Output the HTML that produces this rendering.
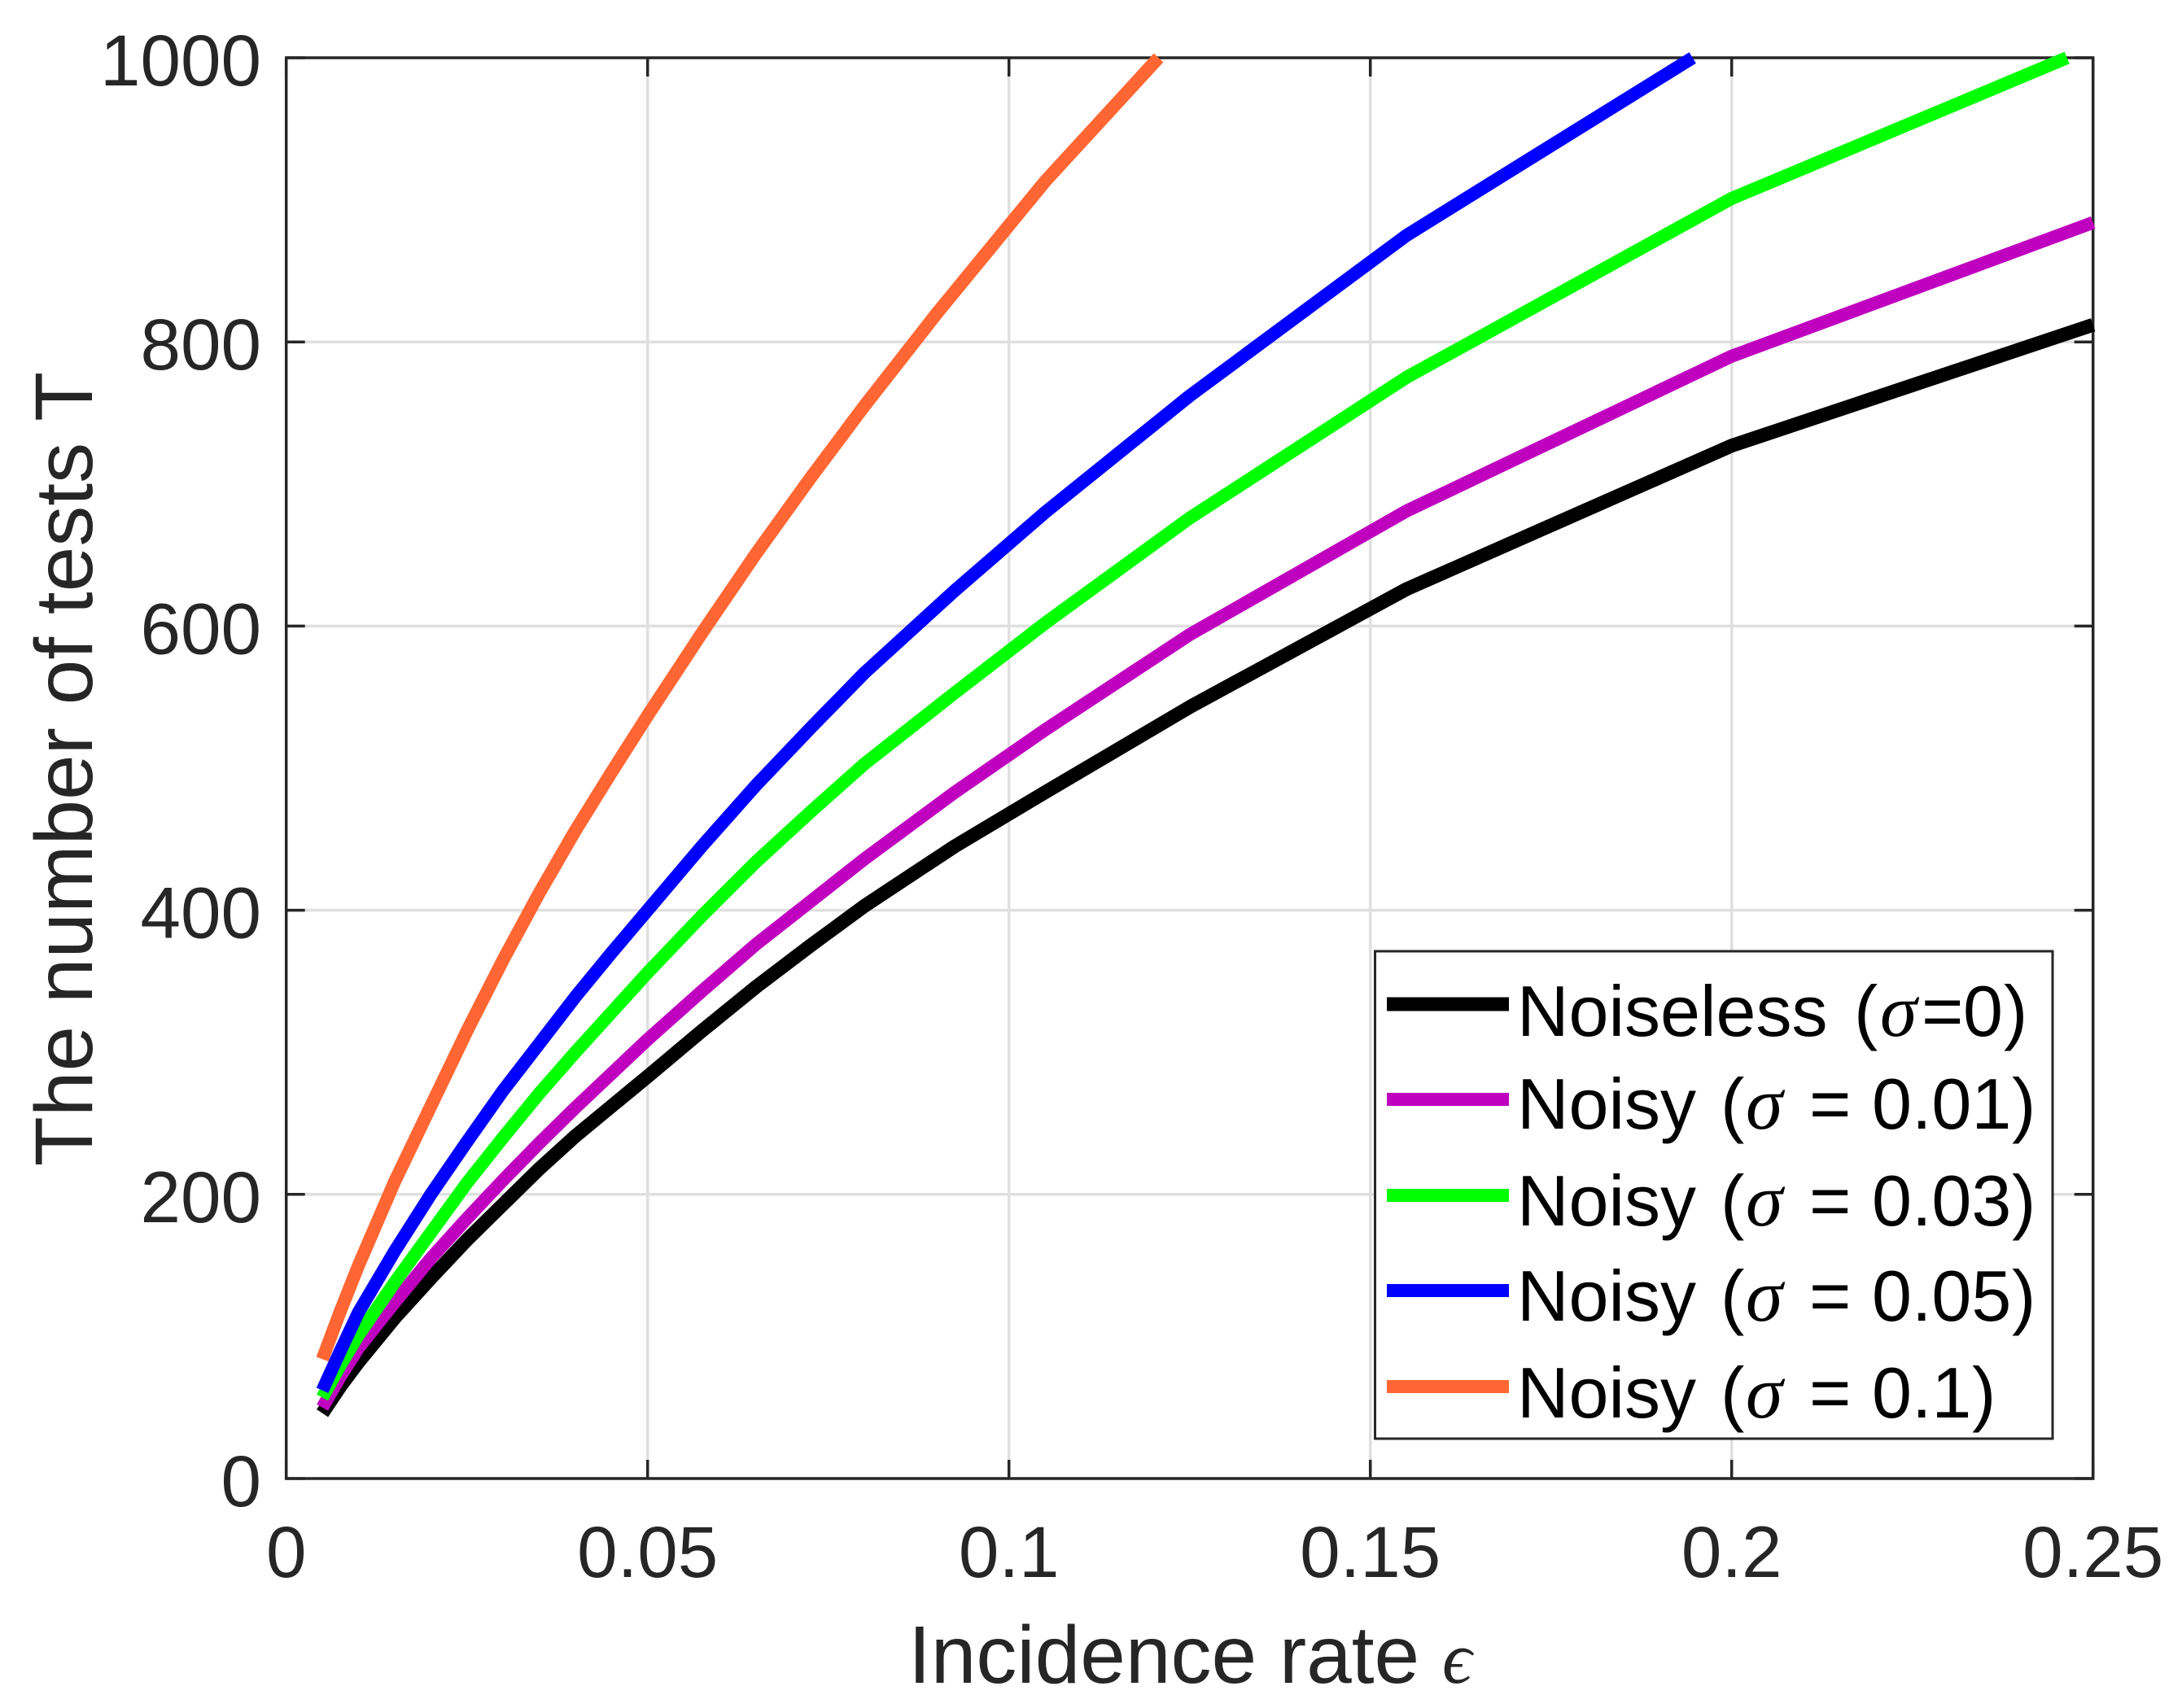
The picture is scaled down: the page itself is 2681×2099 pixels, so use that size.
<!DOCTYPE html>
<html lang="en">
<head>
<meta charset="utf-8">
<title>Number of tests vs incidence rate</title>
<style>
html,body{margin:0;padding:0;background:#fff;}
svg{display:block;}
text{font-family:"Liberation Sans",sans-serif;}
.tick{font-size:89px;fill:#262626;}
.title{font-size:100px;fill:#262626;}
.leg{font-size:88px;fill:#000;}
.greek{font-family:"Liberation Serif","DejaVu Serif",serif;font-style:italic;}
</style>
</head>
<body>
<svg id="chart" xmlns="http://www.w3.org/2000/svg" width="2681" height="2099" viewBox="0 0 2681 2099">
  <rect x="0" y="0" width="2681" height="2099" fill="#fff"/>
  <g id="grid"></g>
  <g id="axes"></g>
  <g id="series"></g>
  <text class="title" transform="translate(113,945) rotate(-90)" text-anchor="middle">The number of tests T</text>
  <text class="title" x="1116" y="2068">Incidence rate <tspan class="greek" font-size="90" dx="0">ϵ</tspan></text>
  <g>
    <rect x="1689.5" y="1169" width="832.5" height="599" fill="#fff" stroke="#262626" stroke-width="3"/>
    <g>
      <line x1="1704" x2="1854" y1="1234" y2="1234" stroke="#000" stroke-width="17"/>
      <text class="leg" y="1273"><tspan x="1864">Noiseless</tspan><tspan x="2278">(</tspan><tspan class="greek" x="2310" font-size="92">σ</tspan><tspan x="2361">=</tspan><tspan x="2412">0</tspan><tspan x="2462">)</tspan></text>
    </g>
    <g>
      <line x1="1704" x2="1854" y1="1351" y2="1351" stroke="#bf00bf" stroke-width="16"/>
      <text class="leg" y="1387"><tspan x="1864">Noisy</tspan><tspan x="2114">(</tspan><tspan class="greek" x="2145" font-size="92">σ</tspan><tspan x="2223">=</tspan><tspan x="2300">0.01</tspan><tspan x="2472">)</tspan></text>
    </g>
    <g>
      <line x1="1704" x2="1854" y1="1469" y2="1469" stroke="#00ff00" stroke-width="16"/>
      <text class="leg" y="1506"><tspan x="1864">Noisy</tspan><tspan x="2114">(</tspan><tspan class="greek" x="2145" font-size="92">σ</tspan><tspan x="2223">=</tspan><tspan x="2300">0.03</tspan><tspan x="2472">)</tspan></text>
    </g>
    <g>
      <line x1="1704" x2="1854" y1="1586" y2="1586" stroke="#0000ff" stroke-width="16"/>
      <text class="leg" y="1623"><tspan x="1864">Noisy</tspan><tspan x="2114">(</tspan><tspan class="greek" x="2145" font-size="92">σ</tspan><tspan x="2223">=</tspan><tspan x="2300">0.05</tspan><tspan x="2472">)</tspan></text>
    </g>
    <g>
      <line x1="1704" x2="1854" y1="1704" y2="1704" stroke="#ff6633" stroke-width="16"/>
      <text class="leg" y="1742"><tspan x="1864">Noisy</tspan><tspan x="2114">(</tspan><tspan class="greek" x="2145" font-size="92">σ</tspan><tspan x="2223">=</tspan><tspan x="2300">0.1</tspan><tspan x="2423">)</tspan></text>
    </g>
  </g>
</svg>
<script>
const xTicks = [0, 0.05, 0.1, 0.15, 0.2, 0.25];
const xTickLabels = ["0", "0.05", "0.1", "0.15", "0.2", "0.25"];
const yTicks = [0, 200, 400, 600, 800, 1000];
const yTickLabels = ["0", "200", "400", "600", "800", "1000"];

const epsNoiseless = [0.005, 0.0075, 0.01, 0.015, 0.02, 0.025, 0.03, 0.035, 0.04, 0.045, 0.05, 0.0575, 0.065, 0.0725, 0.08, 0.0925, 0.105, 0.125, 0.155, 0.2, 0.25];
const testsNoiseless = [46, 65, 82, 113, 141, 168, 193, 218, 241, 262, 283, 315, 346, 375, 403, 445, 483, 543, 626, 727, 812];

const epsSigma001 = [0.005, 0.0075, 0.01, 0.015, 0.02, 0.025, 0.03, 0.035, 0.04, 0.045, 0.05, 0.0575, 0.065, 0.0725, 0.08, 0.0925, 0.105, 0.125, 0.155, 0.2, 0.25];
const testsSigma001 = [50, 72, 92, 124, 155, 183, 210, 236, 261, 285, 309, 343, 376, 406, 436, 483, 527, 594, 681, 790, 884];

const epsSigma003 = [0.005, 0.0075, 0.01, 0.015, 0.02, 0.025, 0.03, 0.035, 0.04, 0.045, 0.05, 0.0575, 0.065, 0.0725, 0.08, 0.0925, 0.105, 0.125, 0.155, 0.2, 0.2464];
const testsSigma003 = [57, 80, 101, 138, 173, 208, 240, 271, 300, 328, 356, 396, 434, 469, 503, 553, 602, 676, 775, 901, 1000];

const epsSigma005 = [0.005, 0.0075, 0.01, 0.015, 0.02, 0.025, 0.03, 0.035, 0.04, 0.045, 0.05, 0.0575, 0.065, 0.0725, 0.08, 0.0925, 0.105, 0.125, 0.155, 0.1946];
const testsSigma005 = [62, 90, 117, 160, 200, 237, 273, 306, 339, 370, 400, 445, 488, 528, 567, 625, 680, 762, 875, 1000];

const epsSigma01 = [0.005, 0.0075, 0.01, 0.015, 0.02, 0.025, 0.03, 0.035, 0.04, 0.045, 0.05, 0.0575, 0.065, 0.0725, 0.08, 0.09, 0.1, 0.105, 0.1207];
const testsSigma01 = [84, 118, 150, 209, 262, 315, 365, 412, 456, 497, 537, 595, 651, 704, 755, 820, 882, 913, 1000];

const PLOT_LEFT = 351.7, PLOT_RIGHT = 2571.7, PLOT_TOP = 71, PLOT_BOTTOM = 1817;
const X_MAX = 0.25, Y_MAX = 1000;
function xScale(v) { return PLOT_LEFT + (v / X_MAX) * (PLOT_RIGHT - PLOT_LEFT); }
function yScale(v) { return PLOT_BOTTOM - (v / Y_MAX) * (PLOT_BOTTOM - PLOT_TOP); }

const NS = "http://www.w3.org/2000/svg";
const gridG = document.getElementById("grid");
const axesG = document.getElementById("axes");
const seriesG = document.getElementById("series");
const AXIS_COLOR = "#262626";
const TICK_LEN = 23;

function makeLine(x1, y1, x2, y2, color, width) {
  const l = document.createElementNS(NS, "line");
  l.setAttribute("x1", x1);
  l.setAttribute("y1", y1);
  l.setAttribute("x2", x2);
  l.setAttribute("y2", y2);
  l.setAttribute("stroke", color);
  l.setAttribute("stroke-width", width);
  return l;
}

// grid lines
xTicks.forEach(function (t) {
  if (t === 0 || t === X_MAX) return;
  const l = makeLine(xScale(t), PLOT_TOP, xScale(t), PLOT_BOTTOM, "#dfdfdf", 3.5);
  
  
  gridG.appendChild(l);
});
yTicks.forEach(function (t) {
  if (t === 0 || t === Y_MAX) return;
  const l = makeLine(PLOT_LEFT, yScale(t), PLOT_RIGHT, yScale(t), "#dfdfdf", 3.5);
  
  
  gridG.appendChild(l);
});

// plot box
const box = document.createElementNS(NS, "rect");
box.setAttribute("x", PLOT_LEFT);
box.setAttribute("y", PLOT_TOP);
box.setAttribute("width", PLOT_RIGHT - PLOT_LEFT);
box.setAttribute("height", PLOT_BOTTOM - PLOT_TOP);
box.setAttribute("fill", "none");
box.setAttribute("stroke", AXIS_COLOR);
box.setAttribute("stroke-width", 3.5);


axesG.appendChild(box);

// x ticks and labels
xTicks.forEach(function (t, i) {
  const px = xScale(t);
  const b = makeLine(px, PLOT_BOTTOM, px, PLOT_BOTTOM - TICK_LEN, AXIS_COLOR, 3.5);
  
  
  axesG.appendChild(b);
  const u = makeLine(px, PLOT_TOP, px, PLOT_TOP + TICK_LEN, AXIS_COLOR, 3.5);
  
  
  axesG.appendChild(u);
  const label = document.createElementNS(NS, "text");
  label.setAttribute("class", "tick");
  label.setAttribute("x", px);
  label.setAttribute("y", 1938);
  label.setAttribute("text-anchor", "middle");
  label.textContent = xTickLabels[i];
  
  
  axesG.appendChild(label);
});

// y ticks and labels
yTicks.forEach(function (t, i) {
  const py = yScale(t);
  const a = makeLine(PLOT_LEFT, py, PLOT_LEFT + TICK_LEN, py, AXIS_COLOR, 3.5);
  
  
  axesG.appendChild(a);
  const c = makeLine(PLOT_RIGHT, py, PLOT_RIGHT - TICK_LEN, py, AXIS_COLOR, 3.5);
  
  
  axesG.appendChild(c);
  const label = document.createElementNS(NS, "text");
  label.setAttribute("class", "tick");
  label.setAttribute("x", 321);
  label.setAttribute("y", py + 34);
  label.setAttribute("text-anchor", "end");
  label.textContent = yTickLabels[i];
  
  
  axesG.appendChild(label);
});

// series
function makeSeries(xs, ys, color, width) {
  const p = document.createElementNS(NS, "polyline");
  p.setAttribute("points", xs.map(function (x, i) { return xScale(x).toFixed(1) + "," + yScale(ys[i]).toFixed(1); }).join(" "));
  p.setAttribute("fill", "none");
  p.setAttribute("stroke", color);
  p.setAttribute("stroke-width", width);
  p.setAttribute("stroke-linejoin", "round");
  p.setAttribute("stroke-linecap", "butt");
  return p;
}
const lineNoiseless = makeSeries(epsNoiseless, testsNoiseless, "#000000", 17);


seriesG.appendChild(lineNoiseless);
const lineSigma001 = makeSeries(epsSigma001, testsSigma001, "#bf00bf", 16);


seriesG.appendChild(lineSigma001);
const lineSigma003 = makeSeries(epsSigma003, testsSigma003, "#00ff00", 16);


seriesG.appendChild(lineSigma003);
const lineSigma005 = makeSeries(epsSigma005, testsSigma005, "#0000ff", 16);


seriesG.appendChild(lineSigma005);
const lineSigma01 = makeSeries(epsSigma01, testsSigma01, "#ff6633", 16);


seriesG.appendChild(lineSigma01);
</script>
</body>
</html>
